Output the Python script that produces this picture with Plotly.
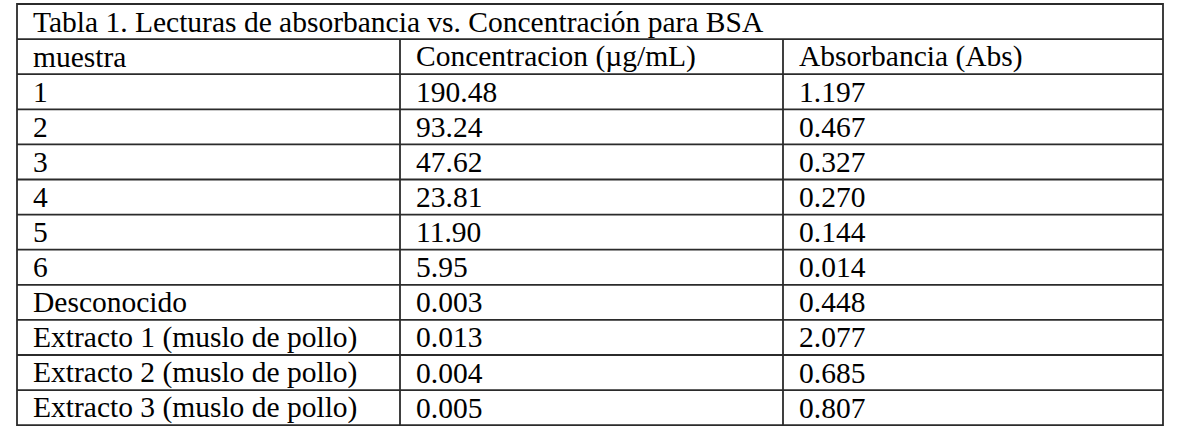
import plotly.graph_objects as go

# ---- data ----
titulo = "Tabla 1. Lecturas de absorbancia vs. Concentración para BSA"
encabezados = ["muestra", "Concentracion (µg/mL)", "Absorbancia (Abs)"]
muestras = ["1", "2", "3", "4", "5", "6", "Desconocido",
            "Extracto 1 (muslo de pollo)", "Extracto 2 (muslo de pollo)",
            "Extracto 3 (muslo de pollo)"]
concentracion = ["190.48", "93.24", "47.62", "23.81", "11.90", "5.95",
                 "0.003", "0.013", "0.004", "0.005"]
absorbancia = ["1.197", "0.467", "0.327", "0.270", "0.144", "0.014",
               "0.448", "2.077", "0.685", "0.807"]

# ---- layout geometry (page pixel coordinates) ----
W, H = 1182, 444
col_x = [17, 400, 783, 1163]
top = 4
row_h = 35.1
pad = 14
n_rows = 1 + 1 + len(muestras)  # title + header + data
bottom = top + row_h * n_rows
font_family = "Liberation Serif, Times New Roman, serif"
font_size = 29.5
line_col = "#2b2b2b"

fig = go.Figure()
shapes = []
shapes.append(dict(type="rect", x0=col_x[0], x1=col_x[-1], y0=top, y1=bottom,
                   xref="x", yref="y", line=dict(color=line_col, width=1.8)))
for i in range(1, n_rows):
    y = top + row_h * i
    shapes.append(dict(type="line", x0=col_x[0], x1=col_x[-1], y0=y, y1=y,
                       xref="x", yref="y", line=dict(color=line_col, width=1.8)))
for cx in col_x[1:-1]:
    shapes.append(dict(type="line", x0=cx, x1=cx, y0=top + row_h, y1=bottom,
                       xref="x", yref="y", line=dict(color=line_col, width=1.8)))

annotations = []
def add_text(txt, col, row):
    annotations.append(dict(
        x=col_x[col] + pad, y=top + row_h * (row + 0.5), xref="x", yref="y",
        text=txt, showarrow=False, xanchor="left", yanchor="middle",
        font=dict(family=font_family, size=font_size, color="#000000")))

add_text(titulo, 0, 0)
for c, h in enumerate(encabezados):
    add_text(h, c, 1)
for r, (m, cval, a) in enumerate(zip(muestras, concentracion, absorbancia)):
    add_text(m, 0, r + 2)
    add_text(cval, 1, r + 2)
    add_text(a, 2, r + 2)

fig.update_layout(
    width=W, height=H, margin=dict(l=0, r=0, t=0, b=0),
    paper_bgcolor="white", plot_bgcolor="white",
    xaxis=dict(range=[0, W], visible=False, fixedrange=True),
    yaxis=dict(range=[H, 0], visible=False, fixedrange=True),
    shapes=shapes, annotations=annotations, showlegend=False,
)
fig.write_html("out.html", config={"displayModeBar": False},
               post_script="document.body.style.margin='0';document.body.style.overflow='hidden';")
